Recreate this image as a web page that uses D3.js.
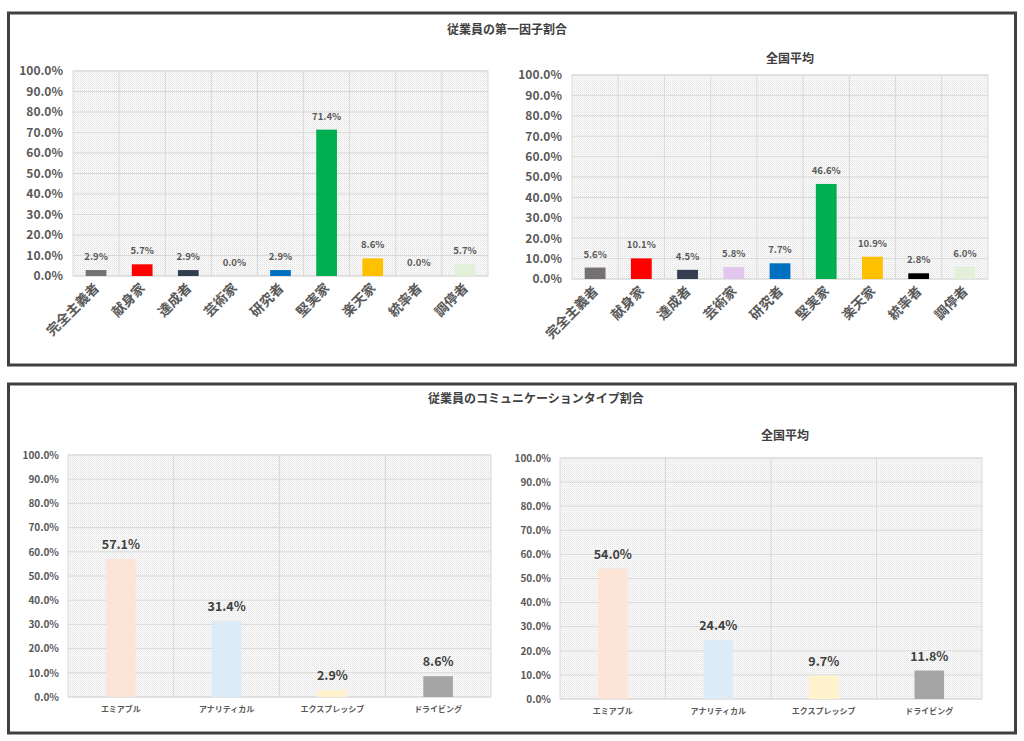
<!DOCTYPE html>
<html><head><meta charset="utf-8">
<script src="https://cdn.jsdelivr.net/npm/d3@7"></script>
<style>
html,body{margin:0;padding:0;background:#fff;}
svg text{font-family:"Noto Sans CJK JP","Noto Sans",sans-serif;font-weight:bold;}
</style></head>
<body>
<svg id="c" width="1024" height="741"></svg>
<script>
const factorCategories = ["完全主義者","献身家","達成者","芸術家","研究者","堅実家","楽天家","統率者","調停者"];
const factorColors = ["#767171","#FF0000","#333F50","#E2C6EF","#0070C0","#00B050","#FFC000","#000000","#E2F0D9"];
const factorEmployee = [2.9,5.7,2.9,0.0,2.9,71.4,8.6,0.0,5.7];
const factorNational = [5.6,10.1,4.5,5.8,7.7,46.6,10.9,2.8,6.0];

const commCategories = ["エミアブル","アナリティカル","エクスプレッシブ","ドライビング"];
const commColors = ["#FCE4D6","#DDEBF7","#FFF2CC","#A5A5A5"];
const commEmployee = [57.1,31.4,2.9,8.6];
const commNational = [54.0,24.4,9.7,11.8];

const yTicks = [0,10,20,30,40,50,60,70,80,90,100];
const titles = {top:"従業員の第一因子割合", bottom:"従業員のコミュニケーションタイプ割合", national:"全国平均"};

const svg = d3.select("#c");
const defs = svg.append("defs");
const pat = defs.append("pattern").attr("id","hatch").attr("patternUnits","userSpaceOnUse").attr("width",2).attr("height",2);
pat.append("rect").attr("width",2).attr("height",2).attr("fill","#fafafa");
pat.append("rect").attr("x",0).attr("y",0).attr("width",1).attr("height",1).attr("fill","#e4e4e4");
pat.append("rect").attr("x",1).attr("y",1).attr("width",1).attr("height",1).attr("fill","#f1f1f1");

// panels
svg.append("rect").attr("x",8.5).attr("y",13).attr("width",1007).attr("height",352).attr("fill","none").attr("stroke","#404040").attr("stroke-width",3);
svg.append("rect").attr("x",8.5).attr("y",384).attr("width",1007).attr("height",349).attr("fill","none").attr("stroke","#404040").attr("stroke-width",3);
svg.append("text").attr("x",507).attr("y",34).attr("text-anchor","middle").attr("font-size",12).attr("fill","#404040").text(titles.top);
svg.append("text").attr("x",536).attr("y",403).attr("text-anchor","middle").attr("font-size",12).attr("fill","#404040").text(titles.bottom);

function drawChart(o){
  const g = svg.append("g");
  const x = d3.scaleBand().domain(o.cats).range([o.x0,o.x1]).paddingInner(0).paddingOuter(0);
  const y = d3.scaleLinear().domain([0,100]).range([o.y1,o.y0]);
  g.append("rect").attr("x",o.x0).attr("y",o.y0).attr("width",o.x1-o.x0).attr("height",o.y1-o.y0).attr("fill","url(#hatch)").attr("stroke","#d9d9d9");
  g.selectAll(".hg").data(yTicks).join("line").attr("x1",o.x0).attr("x2",o.x1).attr("y1",d=>y(d)).attr("y2",d=>y(d)).attr("stroke","#d9d9d9").attr("stroke-width",1);
  const bounds = o.cats.slice(1).map(c=>x(c));
  g.selectAll(".vg").data(bounds).join("line").attr("x1",d=>d).attr("x2",d=>d).attr("y1",o.y0).attr("y2",o.y1).attr("stroke","#d9d9d9").attr("stroke-width",1);
  const ya = d3.axisLeft(y).tickValues(yTicks).tickFormat(d=>d.toFixed(1)+"%").tickSize(0).tickPadding(0);
  const yg = g.append("g").attr("transform",`translate(${o.ylx},0)`).call(ya);
  yg.select(".domain").remove();
  yg.selectAll("text").attr("font-size",o.yfs).attr("fill","#595959").attr("font-family",'"Noto Sans CJK JP",sans-serif').attr("font-weight","bold");
  const bw = x.bandwidth()*o.barFrac;
  g.selectAll(".bar").data(o.vals).join("rect")
    .attr("x",(d,i)=>x(o.cats[i])+(x.bandwidth()-bw)/2).attr("width",bw)
    .attr("y",d=>y(d)).attr("height",d=>y(0)-y(d)).attr("fill",(d,i)=>o.colors[i]);
  g.selectAll(".dl").data(o.vals).join("text")
    .attr("x",(d,i)=>x(o.cats[i])+x.bandwidth()/2).attr("y",d=>y(d)-o.dlOff)
    .attr("text-anchor","middle").attr("font-size",o.dlfs).attr("fill",o.dlColor).text(d=>d.toFixed(1)+"%");
  if(o.rotate){
    g.selectAll(".xl").data(o.cats).join("text")
      .attr("transform",d=>`translate(${x(d)+x.bandwidth()/2+4},${o.y1+13}) rotate(-45)`)
      .attr("text-anchor","end").attr("font-size",o.xfs).attr("fill","#595959").text(d=>d);
  } else {
    g.selectAll(".xl").data(o.cats).join("text")
      .attr("x",d=>x(d)+x.bandwidth()/2).attr("y",o.y1+15)
      .attr("text-anchor","middle").attr("font-size",o.xfs).attr("fill","#595959").text(d=>d);
  }
  if(o.title){
    g.append("text").attr("x",o.tx).attr("y",o.ty).attr("text-anchor","middle").attr("font-size",12).attr("fill","#404040").text(o.title);
  }
}

drawChart({cats:factorCategories,vals:factorEmployee,colors:factorColors,x0:73,x1:488,y0:71,y1:276,ylx:63,yfs:12,barFrac:0.45,dlOff:10,dlfs:9.5,dlColor:"#595959",rotate:true,xfs:13.5});
drawChart({cats:factorCategories,vals:factorNational,colors:factorColors,x0:572,x1:988,y0:75,y1:279,ylx:562,yfs:12,barFrac:0.45,dlOff:10,dlfs:9.5,dlColor:"#595959",rotate:true,xfs:13.5,title:titles.national,tx:790,ty:63});
drawChart({cats:commCategories,vals:commEmployee,colors:commColors,x0:68,x1:491,y0:455,y1:697,ylx:59,yfs:10,barFrac:0.28,dlOff:10,dlfs:12.5,dlColor:"#404040",rotate:false,xfs:8});
drawChart({cats:commCategories,vals:commNational,colors:commColors,x0:560,x1:982,y0:458,y1:699,ylx:551,yfs:10,barFrac:0.28,dlOff:10,dlfs:12.5,dlColor:"#404040",rotate:false,xfs:8,title:titles.national,tx:785,ty:440});
</script>
</body></html>
